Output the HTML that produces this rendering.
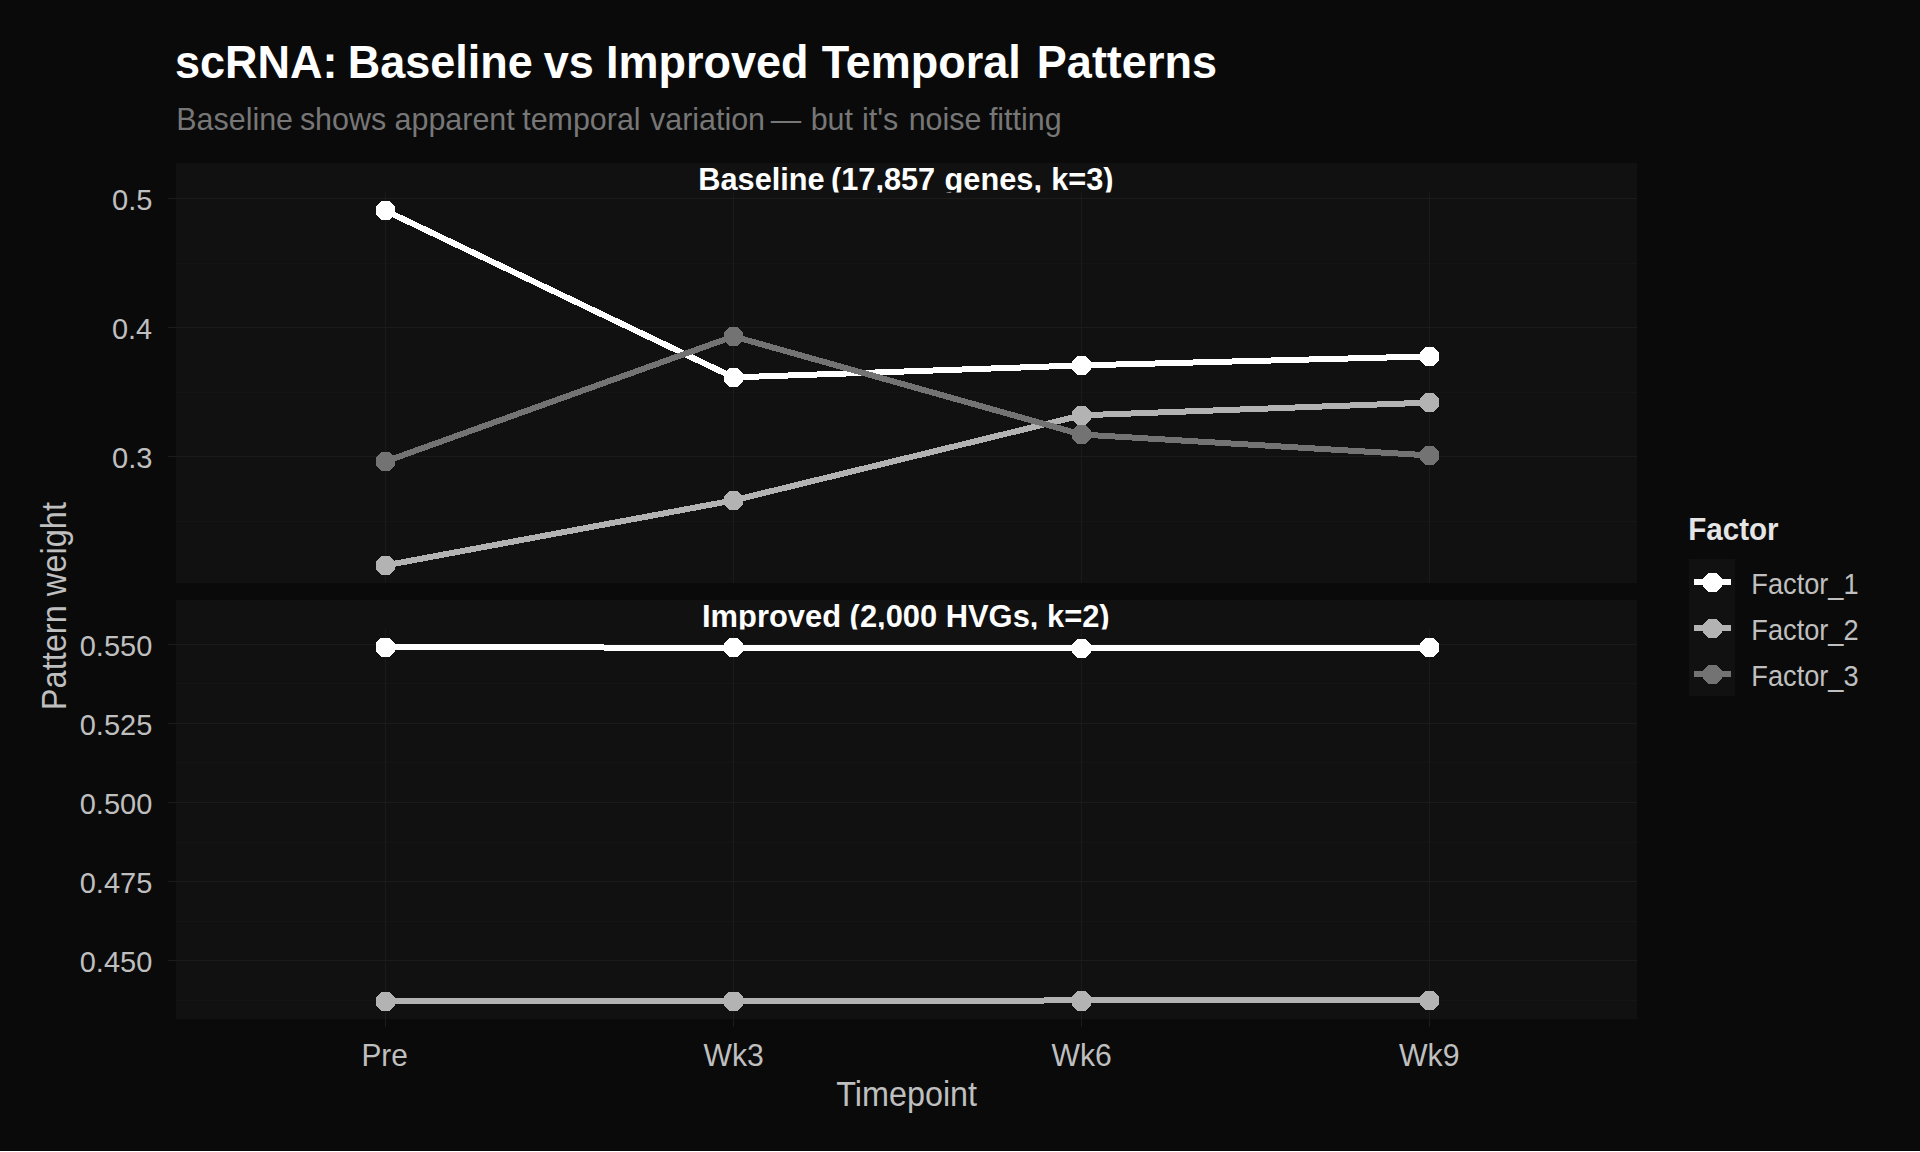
<!DOCTYPE html><html><head><meta charset="utf-8"><style>
html,body{margin:0;padding:0;background:#0a0a0a;width:1920px;height:1152px;overflow:hidden}
svg{display:block}
text{font-family:"Liberation Sans", sans-serif}
</style></head><body>
<svg width="1920" height="1152" viewBox="0 0 1920 1152">
<rect x="0" y="0" width="1920" height="1152" fill="#0a0a0a"/>
<text transform="translate(174.90,78.2) scale(1,1.0434)" font-size="45.004" font-weight="bold" fill="#ffffff">scRNA:</text>
<text transform="translate(347.65,78.2) scale(1,1.0434)" font-size="45.004" font-weight="bold" fill="#ffffff">Baseline</text>
<text transform="translate(543.75,78.2) scale(1,1.0434)" font-size="45.004" font-weight="bold" fill="#ffffff">vs</text>
<text transform="translate(606.05,78.2) scale(1,1.0434)" font-size="45.004" font-weight="bold" fill="#ffffff">Improved</text>
<text transform="translate(821.65,78.2) scale(1,1.0434)" font-size="45.004" font-weight="bold" fill="#ffffff">Temporal</text>
<text transform="translate(1036.85,78.2) scale(1,1.0434)" font-size="45.004" font-weight="bold" fill="#ffffff">Patterns</text>
<text transform="translate(176.32,130.00) scale(1,1.0335)" font-size="30.429" font-weight="normal" fill="#777777">Baseline</text>
<text transform="translate(299.89,130.00) scale(1,1.0335)" font-size="30.429" font-weight="normal" fill="#777777">shows</text>
<text transform="translate(394.58,130.00) scale(1,1.0335)" font-size="30.429" font-weight="normal" fill="#777777">apparent</text>
<text transform="translate(522.20,130.00) scale(1,1.0335)" font-size="30.429" font-weight="normal" fill="#777777">temporal</text>
<text transform="translate(650.00,130.00) scale(1,1.0335)" font-size="30.429" font-weight="normal" fill="#777777">variation</text>
<text transform="translate(770.80,130.00) scale(1,1.0335)" font-size="30.429" font-weight="normal" fill="#777777">—</text>
<text transform="translate(810.67,130.00) scale(1,1.0335)" font-size="30.429" font-weight="normal" fill="#777777">but</text>
<text transform="translate(862.07,130.00) scale(1,1.0335)" font-size="30.429" font-weight="normal" fill="#777777">it&#39;s</text>
<text transform="translate(908.67,130.00) scale(1,1.0335)" font-size="30.429" font-weight="normal" fill="#777777">noise</text>
<text transform="translate(988.90,130.00) scale(1,1.0335)" font-size="30.429" font-weight="normal" fill="#777777">fitting</text>
<rect x="176" y="163" width="1461" height="420" fill="#111111"/>
<rect x="176" y="600" width="1461" height="419" fill="#111111"/>
<rect x="176" y="198" width="1461" height="1" fill="#1b1b1b"/>
<rect x="176" y="327" width="1461" height="1" fill="#1b1b1b"/>
<rect x="176" y="456" width="1461" height="1" fill="#1b1b1b"/>
<rect x="176" y="644" width="1461" height="1" fill="#1b1b1b"/>
<rect x="176" y="723" width="1461" height="1" fill="#1b1b1b"/>
<rect x="176" y="802" width="1461" height="1" fill="#1b1b1b"/>
<rect x="176" y="881" width="1461" height="1" fill="#1b1b1b"/>
<rect x="176" y="960" width="1461" height="1" fill="#1b1b1b"/>
<rect x="176" y="263" width="1461" height="1" fill="#151515"/>
<rect x="176" y="392" width="1461" height="1" fill="#151515"/>
<rect x="176" y="521" width="1461" height="1" fill="#151515"/>
<rect x="176" y="683" width="1461" height="1" fill="#151515"/>
<rect x="176" y="762" width="1461" height="1" fill="#151515"/>
<rect x="176" y="842" width="1461" height="1" fill="#151515"/>
<rect x="176" y="921" width="1461" height="1" fill="#151515"/>
<rect x="176" y="1000" width="1461" height="1" fill="#151515"/>
<rect x="168" y="198" width="8" height="1" fill="#1b1b1b"/>
<rect x="168" y="327" width="8" height="1" fill="#1b1b1b"/>
<rect x="168" y="456" width="8" height="1" fill="#1b1b1b"/>
<rect x="168" y="644" width="8" height="1" fill="#1b1b1b"/>
<rect x="168" y="723" width="8" height="1" fill="#1b1b1b"/>
<rect x="168" y="802" width="8" height="1" fill="#1b1b1b"/>
<rect x="168" y="881" width="8" height="1" fill="#1b1b1b"/>
<rect x="168" y="960" width="8" height="1" fill="#1b1b1b"/>
<rect x="385" y="192" width="1" height="391" fill="#1b1b1b"/>
<rect x="733" y="192" width="1" height="391" fill="#1b1b1b"/>
<rect x="1081" y="192" width="1" height="391" fill="#1b1b1b"/>
<rect x="1429" y="192" width="1" height="391" fill="#1b1b1b"/>
<rect x="385" y="629" width="1" height="390" fill="#1b1b1b"/>
<rect x="733" y="629" width="1" height="390" fill="#1b1b1b"/>
<rect x="1081" y="629" width="1" height="390" fill="#1b1b1b"/>
<rect x="1429" y="629" width="1" height="390" fill="#1b1b1b"/>
<rect x="385" y="1019" width="1" height="8" fill="#1b1b1b"/>
<rect x="733" y="1019" width="1" height="8" fill="#1b1b1b"/>
<rect x="1081" y="1019" width="1" height="8" fill="#1b1b1b"/>
<rect x="1429" y="1019" width="1" height="8" fill="#1b1b1b"/>
<rect x="176" y="163" width="1461" height="29" fill="#111111"/>
<rect x="176" y="600" width="1461" height="29" fill="#111111"/>
<defs><clipPath id="s1"><rect x="176" y="163" width="1461" height="29.5"/></clipPath><clipPath id="s2"><rect x="176" y="600" width="1461" height="29.5"/></clipPath></defs>
<g clip-path="url(#s1)"><text transform="translate(698.25,190.00) scale(1,1.0491)" font-size="30.738" font-weight="bold" fill="#ffffff">Baseline</text>
<text transform="translate(830.96,190.00) scale(1,1.0491)" font-size="30.738" font-weight="bold" fill="#ffffff">(17,857</text>
<text transform="translate(944.57,190.00) scale(1,1.0491)" font-size="30.738" font-weight="bold" fill="#ffffff">genes,</text>
<text transform="translate(1051.15,190.00) scale(1,1.0491)" font-size="30.738" font-weight="bold" fill="#ffffff">k=3)</text>
</g><g clip-path="url(#s2)"><text transform="translate(702.04,626.70) scale(1,1.0180)" font-size="30.894" font-weight="bold" fill="#ffffff">Improved (2,000 HVGs, k=2)</text>
</g><polyline points="385.4,210.6 733.5,377.4 1081.5,365.4 1429.4,356.4" fill="none" stroke="#ffffff" stroke-width="6" stroke-linejoin="round" stroke-linecap="butt" shape-rendering="crispEdges"/>
<polyline points="385.4,565.4 733.5,500.4 1081.5,415.3 1429.4,402.6" fill="none" stroke="#b3b3b3" stroke-width="6" stroke-linejoin="round" stroke-linecap="butt" shape-rendering="crispEdges"/>
<polyline points="385.4,461.5 733.5,336.4 1081.5,434.5 1429.4,455.4" fill="none" stroke="#737373" stroke-width="6" stroke-linejoin="round" stroke-linecap="butt" shape-rendering="crispEdges"/>
<polygon points="395.10,214.62 389.42,220.30 381.38,220.30 375.70,214.62 375.70,206.58 381.38,200.90 389.42,200.90 395.10,206.58" fill="#ffffff" shape-rendering="crispEdges"/>
<polygon points="743.20,381.42 737.52,387.10 729.48,387.10 723.80,381.42 723.80,373.38 729.48,367.70 737.52,367.70 743.20,373.38" fill="#ffffff" shape-rendering="crispEdges"/>
<polygon points="1091.20,369.42 1085.52,375.10 1077.48,375.10 1071.80,369.42 1071.80,361.38 1077.48,355.70 1085.52,355.70 1091.20,361.38" fill="#ffffff" shape-rendering="crispEdges"/>
<polygon points="1439.10,360.42 1433.42,366.10 1425.38,366.10 1419.70,360.42 1419.70,352.38 1425.38,346.70 1433.42,346.70 1439.10,352.38" fill="#ffffff" shape-rendering="crispEdges"/>
<polygon points="395.10,569.42 389.42,575.10 381.38,575.10 375.70,569.42 375.70,561.38 381.38,555.70 389.42,555.70 395.10,561.38" fill="#b3b3b3" shape-rendering="crispEdges"/>
<polygon points="743.20,504.42 737.52,510.10 729.48,510.10 723.80,504.42 723.80,496.38 729.48,490.70 737.52,490.70 743.20,496.38" fill="#b3b3b3" shape-rendering="crispEdges"/>
<polygon points="1091.20,419.32 1085.52,425.00 1077.48,425.00 1071.80,419.32 1071.80,411.28 1077.48,405.60 1085.52,405.60 1091.20,411.28" fill="#b3b3b3" shape-rendering="crispEdges"/>
<polygon points="1439.10,406.62 1433.42,412.30 1425.38,412.30 1419.70,406.62 1419.70,398.58 1425.38,392.90 1433.42,392.90 1439.10,398.58" fill="#b3b3b3" shape-rendering="crispEdges"/>
<polygon points="395.10,465.52 389.42,471.20 381.38,471.20 375.70,465.52 375.70,457.48 381.38,451.80 389.42,451.80 395.10,457.48" fill="#737373" shape-rendering="crispEdges"/>
<polygon points="743.20,340.42 737.52,346.10 729.48,346.10 723.80,340.42 723.80,332.38 729.48,326.70 737.52,326.70 743.20,332.38" fill="#737373" shape-rendering="crispEdges"/>
<polygon points="1091.20,438.52 1085.52,444.20 1077.48,444.20 1071.80,438.52 1071.80,430.48 1077.48,424.80 1085.52,424.80 1091.20,430.48" fill="#737373" shape-rendering="crispEdges"/>
<polygon points="1439.10,459.42 1433.42,465.10 1425.38,465.10 1419.70,459.42 1419.70,451.38 1425.38,445.70 1433.42,445.70 1439.10,451.38" fill="#737373" shape-rendering="crispEdges"/>
<polyline points="385.4,647.0 733.5,647.8 1081.5,648.0 1429.4,648.0" fill="none" stroke="#ffffff" stroke-width="6" stroke-linejoin="round" stroke-linecap="butt" shape-rendering="crispEdges"/>
<polyline points="385.4,1001.0 733.5,1001.0 1081.5,1000.45 1429.4,1000.0" fill="none" stroke="#b3b3b3" stroke-width="6" stroke-linejoin="round" stroke-linecap="butt" shape-rendering="crispEdges"/>
<polygon points="395.10,651.32 389.42,657.00 381.38,657.00 375.70,651.32 375.70,643.28 381.38,637.60 389.42,637.60 395.10,643.28" fill="#ffffff" shape-rendering="crispEdges"/>
<polygon points="743.20,651.52 737.52,657.20 729.48,657.20 723.80,651.52 723.80,643.48 729.48,637.80 737.52,637.80 743.20,643.48" fill="#ffffff" shape-rendering="crispEdges"/>
<polygon points="1091.20,652.52 1085.52,658.20 1077.48,658.20 1071.80,652.52 1071.80,644.48 1077.48,638.80 1085.52,638.80 1091.20,644.48" fill="#ffffff" shape-rendering="crispEdges"/>
<polygon points="1439.10,651.52 1433.42,657.20 1425.38,657.20 1419.70,651.52 1419.70,643.48 1425.38,637.80 1433.42,637.80 1439.10,643.48" fill="#ffffff" shape-rendering="crispEdges"/>
<polygon points="395.10,1005.42 389.42,1011.10 381.38,1011.10 375.70,1005.42 375.70,997.38 381.38,991.70 389.42,991.70 395.10,997.38" fill="#b3b3b3" shape-rendering="crispEdges"/>
<polygon points="743.20,1005.22 737.52,1010.90 729.48,1010.90 723.80,1005.22 723.80,997.18 729.48,991.50 737.52,991.50 743.20,997.18" fill="#b3b3b3" shape-rendering="crispEdges"/>
<polygon points="1091.20,1004.82 1085.52,1010.50 1077.48,1010.50 1071.80,1004.82 1071.80,996.78 1077.48,991.10 1085.52,991.10 1091.20,996.78" fill="#b3b3b3" shape-rendering="crispEdges"/>
<polygon points="1439.10,1004.62 1433.42,1010.30 1425.38,1010.30 1419.70,1004.62 1419.70,996.58 1425.38,990.90 1433.42,990.90 1439.10,996.58" fill="#b3b3b3" shape-rendering="crispEdges"/>
<text transform="translate(111.94,209.75) scale(1,1.0350)" font-size="29.122" font-weight="normal" fill="#bfbfbf">0.5</text>
<text transform="translate(111.94,338.75) scale(1,1.0429)" font-size="28.902" font-weight="normal" fill="#bfbfbf">0.4</text>
<text transform="translate(111.94,467.75) scale(1,1.0350)" font-size="29.122" font-weight="normal" fill="#bfbfbf">0.3</text>
<text transform="translate(79.74,655.75) scale(1,1.0390)" font-size="29.008" font-weight="normal" fill="#bfbfbf">0.550</text>
<text transform="translate(79.74,734.75) scale(1,1.0390)" font-size="29.008" font-weight="normal" fill="#bfbfbf">0.525</text>
<text transform="translate(79.74,813.75) scale(1,1.0390)" font-size="29.008" font-weight="normal" fill="#bfbfbf">0.500</text>
<text transform="translate(79.74,892.75) scale(1,1.0390)" font-size="29.008" font-weight="normal" fill="#bfbfbf">0.475</text>
<text transform="translate(79.74,971.75) scale(1,1.0390)" font-size="29.008" font-weight="normal" fill="#bfbfbf">0.450</text>
<text transform="translate(361.39,1066.00) scale(1,1.0593)" font-size="29.825" font-weight="normal" fill="#bfbfbf">Pre</text>
<text transform="translate(703.50,1066.00) scale(1,1.0478)" font-size="30.154" font-weight="normal" fill="#bfbfbf">Wk3</text>
<text transform="translate(1051.50,1066.00) scale(1,1.0478)" font-size="30.154" font-weight="normal" fill="#bfbfbf">Wk6</text>
<text transform="translate(1399.00,1066.00) scale(1,1.0424)" font-size="30.309" font-weight="normal" fill="#bfbfbf">Wk9</text>
<text transform="translate(836.25,1105.90) scale(1,1.0705)" font-size="32.356" font-weight="normal" fill="#bfbfbf">Timepoint</text>
<text transform="translate(65.50,710.21) rotate(-90) scale(1,1.0897)" font-size="32.583" font-weight="normal" fill="#bfbfbf">Pattern weight</text>
<text transform="translate(1688.23,540.00) scale(1,1.0418)" font-size="29.562" font-weight="bold" fill="#e5e5e5">Factor</text>
<rect x="1689" y="559" width="46" height="137" fill="#111111"/>
<rect x="1694" y="579" width="37" height="6" fill="#ffffff"/>
<polygon points="1722.00,586.52 1716.32,592.20 1708.28,592.20 1702.60,586.52 1702.60,578.48 1708.28,572.80 1716.32,572.80 1722.00,578.48" fill="#ffffff" shape-rendering="crispEdges"/>
<text transform="translate(1751.32,593.90) scale(1,1.0683)" font-size="27.199" font-weight="normal" fill="#bfbfbf">Factor_1</text>
<rect x="1694" y="625" width="37" height="6" fill="#b3b3b3"/>
<polygon points="1722.00,632.52 1716.32,638.20 1708.28,638.20 1702.60,632.52 1702.60,624.48 1708.28,618.80 1716.32,618.80 1722.00,624.48" fill="#b3b3b3" shape-rendering="crispEdges"/>
<text transform="translate(1751.32,639.90) scale(1,1.0683)" font-size="27.199" font-weight="normal" fill="#bfbfbf">Factor_2</text>
<rect x="1694" y="671" width="37" height="6" fill="#737373"/>
<polygon points="1722.00,678.52 1716.32,684.20 1708.28,684.20 1702.60,678.52 1702.60,670.48 1708.28,664.80 1716.32,664.80 1722.00,670.48" fill="#737373" shape-rendering="crispEdges"/>
<text transform="translate(1751.32,685.90) scale(1,1.0683)" font-size="27.199" font-weight="normal" fill="#bfbfbf">Factor_3</text>
<rect x="0" y="1151" width="1920" height="1" fill="#ffffff"/>
</svg></body></html>
